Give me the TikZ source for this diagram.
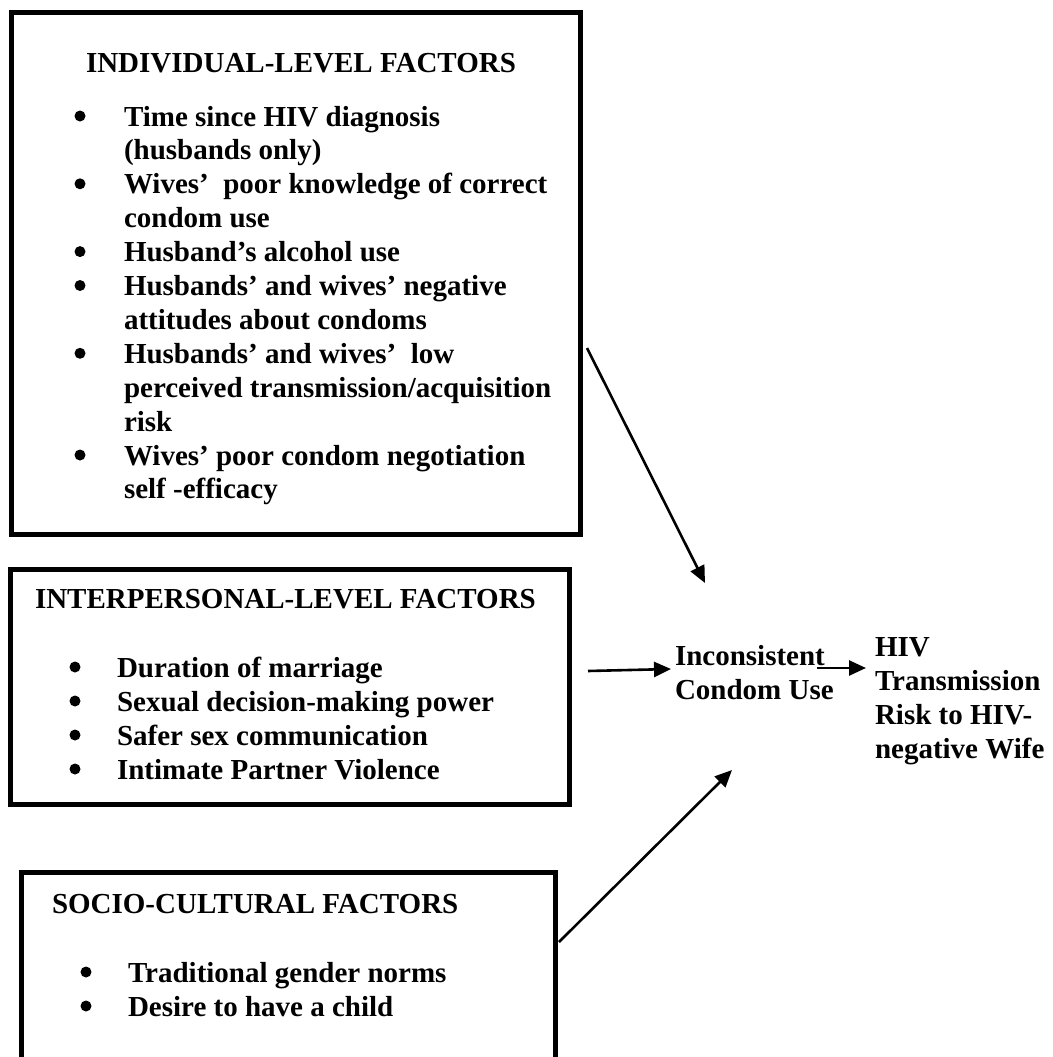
\documentclass[tikz,border=0pt]{standalone}
\usepackage{fontspec}
\setmainfont{Liberation Serif}
\usetikzlibrary{arrows.meta}
\begin{document}
\begin{tikzpicture}[x=1pt,y=-1pt,
  box/.style={draw, line width=5.5pt, inner sep=0pt, outer sep=0pt, anchor=north west},
  txt/.style={anchor=base west, inner sep=0pt, outer sep=0pt, font=\fontsize{29}{34}\selectfont\bfseries},
  bul/.style={circle, fill=black, inner sep=0pt, outer sep=0pt, minimum size=11pt},
  conn/.style={line width=2.6pt, -{Triangle[length=17pt,width=15pt]}}]
\useasboundingbox (0,0) rectangle (1052,1057);

% boxes
\node[box, minimum width=569pt, minimum height=522pt] (ind) at (11.5,12.5) {};
\node[box, minimum width=559pt, minimum height=235pt] (inter) at (10.5,569.5) {};
\begin{scope}
\clip (0,0) rectangle (1052,1057);
\node[box, minimum width=534pt, minimum height=220pt] (soc) at (21.5,872.5) {};
\end{scope}

% individual-level
\node[txt] (indt) at (86,72) {INDIVIDUAL-LEVEL FACTORS};
\node[txt] (i1) at (124,126.0) {Time since HIV diagnosis};
\node[txt] (i1b) at (124,159.9) {(husbands only)};
\node[txt] (i2) at (124,193.8) {Wives’\ \ poor knowledge of correct};
\node[txt] (i2b) at (124,227.7) {condom use};
\node[txt] (i3) at (124,261.6) {Husband’s alcohol use};
\node[txt] (i4) at (124,295.5) {Husbands’ and wives’ negative};
\node[txt] (i4b) at (124,329.4) {attitudes about condoms};
\node[txt] (i5) at (124,363.3) {Husbands’ and wives’\ \ low};
\node[txt] (i5b) at (124,397.2) {perceived transmission/acquisition};
\node[txt] (i5c) at (124,431.1) {risk};
\node[txt] (i6) at (124,465.0) {Wives’ poor condom negotiation};
\node[txt] (i6b) at (124,498.9) {self -efficacy};
\foreach \n/\y in {b1/126.0, b2/193.8, b3/261.6, b4/295.5, b5/363.3, b6/465.0}
  \node[bul] (\n) at (80,\y-10) {};

% interpersonal-level
\node[txt] (intt) at (35,608) {INTERPERSONAL-LEVEL FACTORS};
\node[txt] (p1) at (117,677) {Duration of marriage};
\node[txt] (p2) at (117,711) {Sexual decision-making power};
\node[txt] (p3) at (117,745) {Safer sex communication};
\node[txt] (p4) at (117,779) {Intimate Partner Violence};
\foreach \n/\y in {c1/677, c2/711, c3/745, c4/779}
  \node[bul] (\n) at (75,\y-10) {};

% socio-cultural
\node[txt] (soct) at (52,913) {SOCIO-CULTURAL FACTORS};
\node[txt] (s1) at (128,982) {Traditional gender norms};
\node[txt] (s2) at (128,1016) {Desire to have a child};
\foreach \n/\y in {d1/982, d2/1016}
  \node[bul] (\n) at (86,\y-10) {};

% outcome texts
\node[txt] (inc1) at (675,665) {Inconsistent};
\node[txt] (inc2) at (675,699) {Condom Use};
\node[txt] (hiv1) at (875,656) {HIV};
\node[txt] (hiv2) at (875,690) {Transmission};
\node[txt] (hiv3) at (875,724) {Risk to HIV-};
\node[txt] (hiv4) at (875,758) {negative Wife};

% connector ends
\coordinate (a1s) at (587,348);
\coordinate (a1e) at (705,583);
\coordinate (a2s) at (588,671);
\coordinate (a2e) at (671,669);
\coordinate (a3s) at (559,942);
\coordinate (a3e) at (732,770);
\coordinate (a4s) at (817,668);
\coordinate (a4e) at (866,668);

\draw[conn] (a1s) -- (a1e);
\draw[conn] (a2s) -- (a2e);
\draw[conn] (a3s) -- (a3e);
\draw[conn] (a4s) -- (a4e);
\end{tikzpicture}
\end{document}
